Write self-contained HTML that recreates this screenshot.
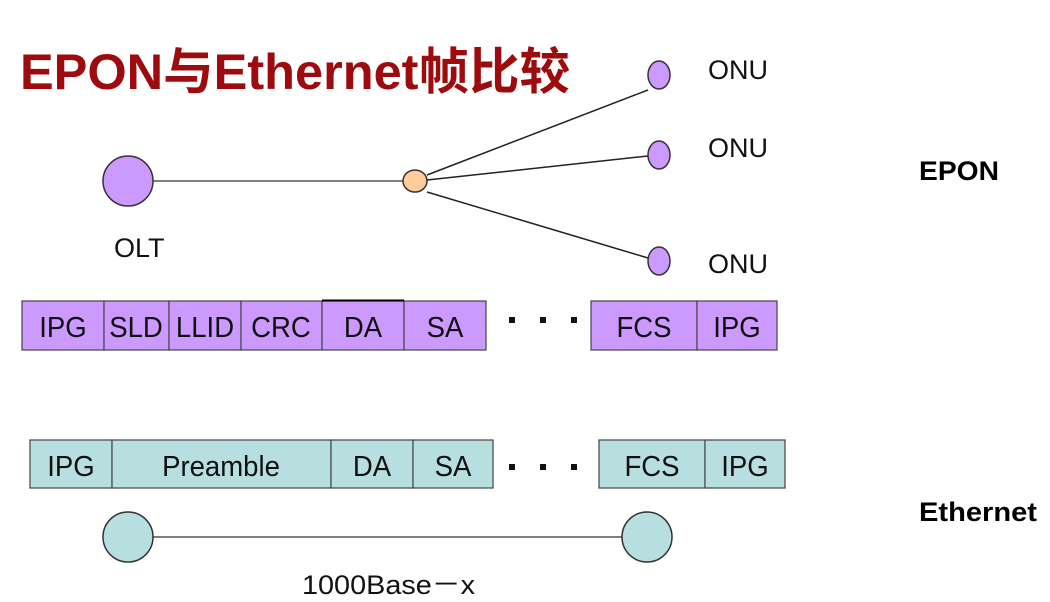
<!DOCTYPE html>
<html><head><meta charset="utf-8"><style>
html,body{margin:0;padding:0;background:#fff;}
svg{display:block;}
text{font-family:"Liberation Sans","Noto Sans CJK SC",sans-serif;}
</style></head><body>
<svg width="1050" height="602" xmlns="http://www.w3.org/2000/svg">
<text x="20" y="89" font-size="50" font-weight="bold" fill="#9e0b0f" textLength="550" lengthAdjust="spacingAndGlyphs">EPON与Ethernet帧比较</text>
<g stroke="#222" stroke-width="1.5">
<line x1="153" y1="181" x2="403" y2="181" stroke="#555"/>
<line x1="427" y1="175" x2="648" y2="90"/>
<line x1="427" y1="180" x2="648" y2="156"/>
<line x1="427" y1="192" x2="648" y2="258"/>
<line x1="153" y1="537" x2="622" y2="537" stroke="#555"/>
</g>
<g stroke="#333" stroke-width="1.5">
<circle cx="128" cy="181" r="25" fill="#cc99ff"/>
<ellipse cx="415" cy="181" rx="12" ry="11" fill="#ffcc99"/>
<ellipse cx="659" cy="75" rx="11" ry="14" fill="#cc99ff"/>
<ellipse cx="659" cy="155" rx="11" ry="14" fill="#cc99ff"/>
<ellipse cx="659" cy="261" rx="11" ry="14" fill="#cc99ff"/>
<circle cx="128" cy="537" r="25" fill="#b8dfe0"/>
<circle cx="647" cy="537" r="25" fill="#b8dfe0"/>
</g>
<g font-size="27" fill="#111">
<text x="708" y="79">ONU</text>
<text x="708" y="157">ONU</text>
<text x="708" y="273">ONU</text>
<text x="114" y="257">OLT</text>
<text x="302" y="594" textLength="173" lengthAdjust="spacingAndGlyphs">1000Base－x</text>
</g>
<text x="919" y="180" font-size="27" font-weight="bold" textLength="80" lengthAdjust="spacingAndGlyphs">EPON</text>
<text x="919" y="521" font-size="27" font-weight="bold" textLength="118" lengthAdjust="spacingAndGlyphs">Ethernet</text>
<g stroke="#444" stroke-width="1.2" fill="#cc99ff">
<rect x="22" y="301" width="82" height="49"/>
<rect x="104" y="301" width="65" height="49"/>
<rect x="169" y="301" width="72" height="49"/>
<rect x="241" y="301" width="81" height="49"/>
<rect x="322" y="301" width="82" height="49"/>
<rect x="404" y="301" width="82" height="49"/>
<rect x="591" y="301" width="106" height="49"/>
<rect x="697" y="301" width="80" height="49"/>
</g>
<line x1="322" y1="300.5" x2="404" y2="300.5" stroke="#000" stroke-width="2"/>
<g stroke="#444" stroke-width="1.2" fill="#b8dfe0">
<rect x="30" y="440" width="82" height="48"/>
<rect x="112" y="440" width="219" height="48"/>
<rect x="331" y="440" width="82" height="48"/>
<rect x="413" y="440" width="80" height="48"/>
<rect x="599" y="440" width="106" height="48"/>
<rect x="705" y="440" width="80" height="48"/>
</g>
<g fill="#111">
<rect x="509" y="317" width="6" height="6"/><rect x="540" y="317" width="6" height="6"/><rect x="571" y="317" width="6" height="6"/>
<rect x="509" y="464" width="6" height="6"/><rect x="540" y="464" width="6" height="6"/><rect x="571" y="464" width="6" height="6"/>
</g>
<g font-size="29" fill="#111" text-anchor="middle">
<text transform="translate(63,337) scale(0.95,1)">IPG</text>
<text transform="translate(136,337) scale(0.95,1)">SLD</text>
<text transform="translate(205,337) scale(0.95,1)">LLID</text>
<text transform="translate(281,337) scale(0.95,1)">CRC</text>
<text transform="translate(363,337) scale(0.95,1)">DA</text>
<text transform="translate(445,337) scale(0.95,1)">SA</text>
<text transform="translate(644,337) scale(0.95,1)">FCS</text>
<text transform="translate(737,337) scale(0.95,1)">IPG</text>
<text transform="translate(71,476) scale(0.95,1)">IPG</text>
<text transform="translate(221,476) scale(0.95,1)">Preamble</text>
<text transform="translate(372,476) scale(0.95,1)">DA</text>
<text transform="translate(453,476) scale(0.95,1)">SA</text>
<text transform="translate(652,476) scale(0.95,1)">FCS</text>
<text transform="translate(745,476) scale(0.95,1)">IPG</text>
</g>
</svg>
</body></html>
